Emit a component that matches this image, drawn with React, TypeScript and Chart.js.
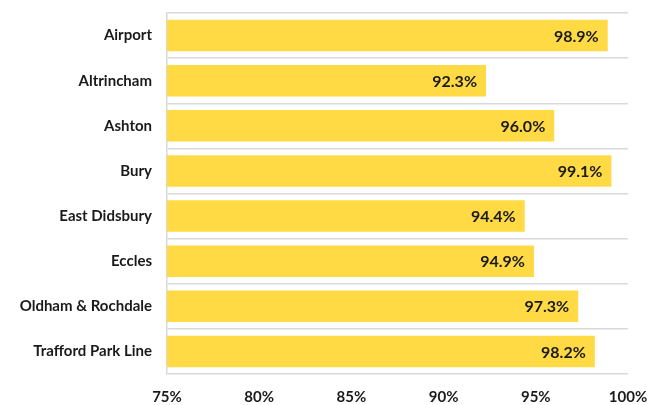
import React, { useEffect, useRef } from "react";
import { Chart, registerables } from "chart.js";

Chart.register(...registerables);

const categories = [
  "Airport",
  "Altrincham",
  "Ashton",
  "Bury",
  "East Didsbury",
  "Eccles",
  "Oldham & Rochdale",
  "Trafford Park Line",
];
const values = [98.9, 92.3, 96.0, 99.1, 94.4, 94.9, 97.3, 98.2];
const xMin = 75;
const xMax = 100;
const xStep = 5;

const FONT = "Lato, 'Open Sans', sans-serif";

const labelPlugin = {
  id: "barLabels",
  afterDatasetsDraw(chart: any) {
    const ctx = chart.ctx;
    const meta = chart.getDatasetMeta(0);
    ctx.save();
    ctx.font = `bold 16px ${FONT}`;
    ctx.fillStyle = "#1a1a1a";
    ctx.textAlign = "right";
    ctx.textBaseline = "middle";
    meta.data.forEach((bar: any, i: number) => {
      const v = values[i];
      ctx.fillText(v.toFixed(1) + "%", bar.x - 9, bar.y + 1);
    });
    ctx.restore();
  },
};

const zeroPad = (s: any) => {
  s.paddingTop = 0;
  s.paddingBottom = 0;
  s.paddingLeft = 0;
  s.paddingRight = 0;
};

export default function App() {
  const ref = useRef<HTMLCanvasElement | null>(null);
  useEffect(() => {
    document.body.style.margin = "0";
    if (!ref.current) return;
    const chart = new Chart(ref.current, {
      type: "bar",
      data: {
        labels: categories,
        datasets: [
          {
            data: values,
            backgroundColor: "#FFDA44",
            borderWidth: 0,
            barPercentage: 0.7,
            categoryPercentage: 1,
          },
        ],
      },
      plugins: [labelPlugin],
      options: {
        indexAxis: "y",
        animation: false,
        responsive: false,
        maintainAspectRatio: false,
        devicePixelRatio: 1,
        layout: { padding: { top: 13, right: 19, left: 0, bottom: 0 } },
        plugins: {
          legend: { display: false },
          tooltip: { enabled: false },
        },
        scales: {
          x: {
            min: xMin,
            max: xMax,
            ticks: {
              stepSize: xStep,
              callback: (v: any) => v + "%",
              color: "#1a1a1a",
              font: { family: FONT, size: 15, weight: "bold" },
              padding: 14,
            },
            grid: { display: false, drawTicks: false },
            border: { display: false },
            afterFit: (s: any) => {
              s.height = 31;
              zeroPad(s);
            },
          },
          y: {
            ticks: {
              color: "#1a1a1a",
              font: { family: FONT, size: 15, weight: "bold" },
              padding: 15,
            },
            grid: {
              color: "#d9d9d9",
              lineWidth: 1.5,
              drawTicks: false,
              offset: true,
            },
            border: { display: true, color: "#d9d9d9", width: 1.5 },
            afterFit: (s: any) => {
              s.width = 167;
              zeroPad(s);
            },
          },
        },
      },
    });
    return () => chart.destroy();
  }, []);
  return (
    <div style={{ width: 647, height: 405 }}>
      <canvas ref={ref} width={647} height={405} style={{ width: 647, height: 405, display: "block" }} />
    </div>
  );
}
